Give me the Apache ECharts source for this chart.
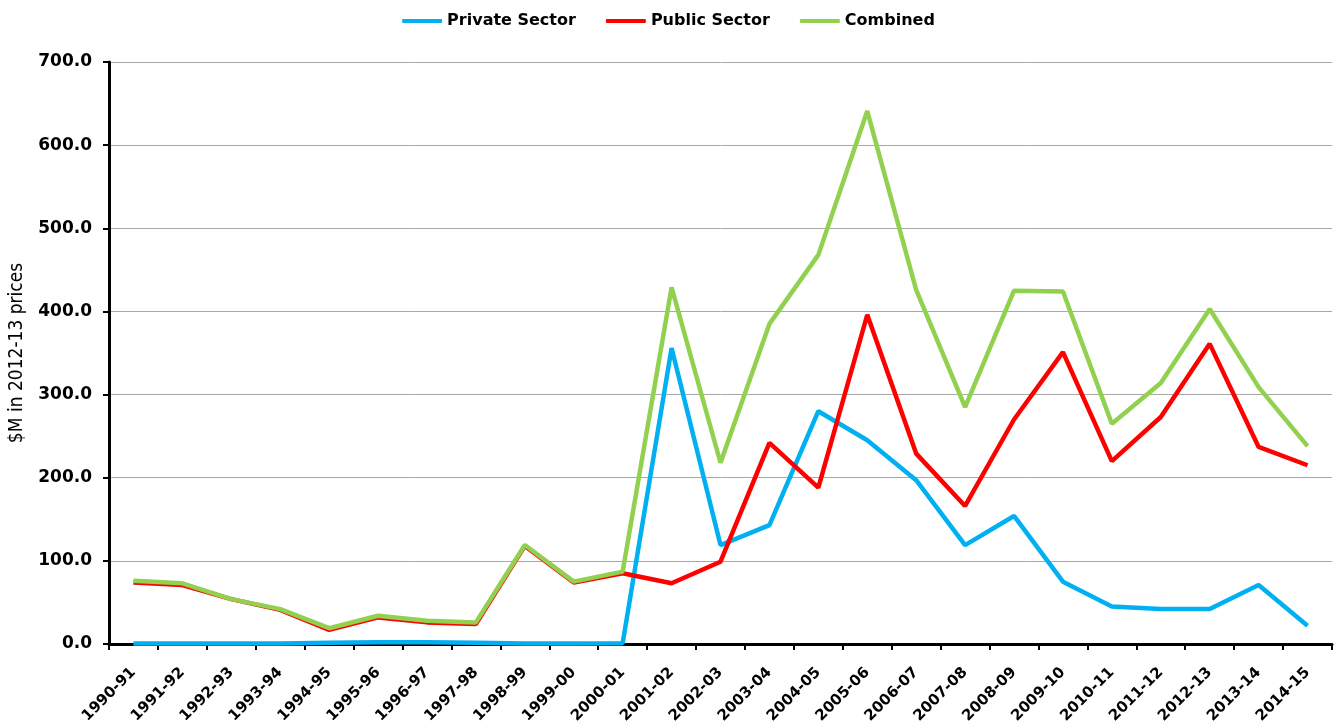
<!DOCTYPE html>
<html><head><meta charset="utf-8">
<script src="https://cdn.jsdelivr.net/npm/echarts@6/dist/echarts.min.js"></script>
<style>html,body{margin:0;padding:0;background:#fff}#c{width:1337px;height:728px}</style>
</head><body><div id="c"></div>
<script>
const categories = ["1990-91","1991-92","1992-93","1993-94","1994-95","1995-96","1996-97","1997-98","1998-99","1999-00","2000-01","2001-02","2002-03","2003-04","2004-05","2005-06","2006-07","2007-08","2008-09","2009-10","2010-11","2011-12","2012-13","2013-14","2014-15"];
const privateSector = [0.5,0.5,0.5,0.5,1.5,2,2,1.5,0.5,0.5,1,356,119,143,280,245,197,119,154,75,45,42,42,71,22];
const publicSector = [74,71,54,41,17,32,26,24,118,74,85,73,99,242,188,396,229,166,270,351,220,273,361,237,215];
const combined = [76,73,54,42,19,34,28,26,119,75,87,429,218,385,468,641,426,285,425,424,265,314,403,309,238];
const seriesNames = ["Private Sector","Public Sector","Combined"];
const colors = ["#00B0F0","#FF0000","#92D050"];

const chart = echarts.init(document.getElementById('c'));
const font = "'DejaVu Sans', sans-serif";
const condensed = "'DejaVu Sans Condensed', 'DejaVu Sans', sans-serif";
chart.setOption({
  animation:false,
  color: colors,
  legend:{
    top:8, left:'center', itemWidth:40, itemHeight:4, itemGap:30,
    icon:'roundRect',
    textStyle:{fontFamily:font, fontWeight:'bold', fontSize:16, color:'#000'},
    data: seriesNames
  },
  grid:{left:108, right:5, top:62, bottom:84, containLabel:false},
  xAxis:{
    type:'category', data:categories, boundaryGap:true,
    axisLine:{lineStyle:{color:'#000', width:3}},
    axisTick:{show:true, alignWithLabel:false, length:6, lineStyle:{color:'#000', width:2}},
    axisLabel:{rotate:45, interval:0, fontFamily:font, fontWeight:'bold', fontSize:15, color:'#000', margin:26},
    splitLine:{show:false}
  },
  yAxis:{
    type:'value', min:0, max:700, interval:100,
    name:'$M in 2012-13 prices', nameLocation:'middle', nameGap:82,
    nameTextStyle:{fontFamily:condensed, fontSize:19, color:'#000', fontWeight:'normal'},
    axisLine:{show:true, lineStyle:{color:'#000', width:3}},
    axisTick:{show:true, length:6, lineStyle:{color:'#000', width:2}},
    axisLabel:{fontFamily:font, fontWeight:'bold', fontSize:17, color:'#000', margin:17,
      formatter: v => v.toFixed(1)},
    splitLine:{show:true, lineStyle:{color:'#a8a8a8', width:1}}
  },
  series:[
    {name:seriesNames[0], type:'line', data:privateSector, showSymbol:false, symbol:'none', lineStyle:{width:4.5}},
    {name:seriesNames[1], type:'line', data:publicSector, showSymbol:false, symbol:'none', lineStyle:{width:4.5}},
    {name:seriesNames[2], type:'line', data:combined, showSymbol:false, symbol:'none', lineStyle:{width:4.5}}
  ]
});
</script></body></html>
